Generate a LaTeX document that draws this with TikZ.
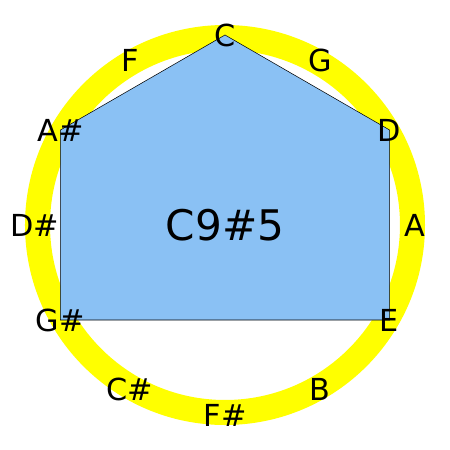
\documentclass[tikz,border=0pt]{standalone}
\usepackage{fontspec}
\setmainfont{DejaVu Sans}
\definecolor{ringyellow}{RGB}{255,255,0}
\definecolor{chordblue}{RGB}{138,193,244}
\begin{document}
\begin{tikzpicture}[inner sep=0.1cm]
	\useasboundingbox (-6,-6) rectangle (6,6);
	\draw [ringyellow,line width=0.667cm] (0,0) circle (5);
	\foreach [count=\n] \t in {0,30,...,330}{
		\coordinate (vertex \n) at (90-\t:5.067);
	}
	
	\draw [fill=chordblue,line width=0.4pt] (vertex 1) -- (vertex 3) -- (vertex 5) -- (vertex 9) -- (vertex 11) -- cycle;
	
	\foreach [count=\n] \s in {C,G,D,A,E,B,F\#,C\#,G\#,D\#,A\#,F}{
		\node [font=\fontsize{23}{28}\selectfont] at (vertex \n) (note \n) {\s};
	}
	
	\node [font=\fontsize{32}{38}\selectfont] at (0,0) (chord) {C9\#5};
	
\end{tikzpicture}
\end{document}
